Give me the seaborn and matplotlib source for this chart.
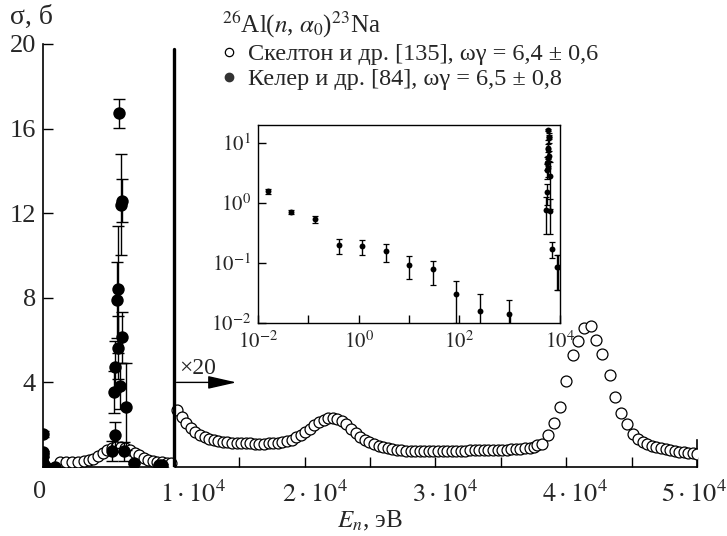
import numpy as np
import pandas as pd
import matplotlib
matplotlib.use("Agg")
import matplotlib.pyplot as plt
from matplotlib.lines import Line2D
from matplotlib.transforms import ScaledTranslation
import seaborn as sns

# ---------------- data ----------------
# Skelton et al. [135] -- below 10 keV (true scale)
skelton_E_low = [1300, 1750, 2200, 2650, 3100, 3500, 3850, 4200, 4550, 4900, 5250,
                 5600, 5950, 6300, 6650, 7000, 7350, 7700, 8050, 8400, 8750, 9100,
                 9450, 9800]
skelton_sigma_low = [0.25, 0.24, 0.24, 0.25, 0.27, 0.31, 0.40, 0.52, 0.66, 0.79, 0.89,
                     0.95, 0.96, 0.90, 0.80, 0.67, 0.55, 0.44, 0.35, 0.29, 0.25, 0.22,
                     0.20, 0.19]

# Skelton et al. [135] -- above 10 keV, shown multiplied by 20
skelton_E_high = [10250, 10600, 10950, 11300, 11650, 12000, 12350, 12700, 13050, 13400,
                  13750, 14100, 14450, 14800, 15150, 15500, 15850, 16200, 16550, 16900,
                  17250, 17600, 17950, 18300, 18650, 19000, 19350, 19700, 20050, 20400,
                  20750, 21100, 21450, 21800, 22150, 22500, 22850, 23200, 23550, 23900,
                  24250, 24600, 24950, 25300, 25650, 26000, 26350, 26700, 27050, 27400,
                  27750, 28100, 28450, 28800, 29150, 29500, 29850, 30200, 30550, 30900,
                  31250, 31600, 31950, 32300, 32650, 33000, 33350, 33700, 34050, 34400,
                  34750, 35100, 35450, 35800, 36150, 36500, 36850, 37200, 37500, 37800,
                  38130, 38640, 39100, 39490, 40000, 40510, 40900, 41360, 41880, 42300,
                  42770, 43330, 43760, 44180, 44620, 45100, 45500, 45850, 46200, 46550,
                  46900, 47250, 47600, 47950, 48300, 48650, 49000, 49350, 49700, 50000]
skelton_sigma_high_x20 = [2.70, 2.35, 2.08, 1.85, 1.66, 1.52, 1.41, 1.32, 1.26, 1.22,
                          1.19, 1.17, 1.15, 1.14, 1.13, 1.12, 1.12, 1.11, 1.11, 1.11,
                          1.12, 1.13, 1.15, 1.18, 1.23, 1.30, 1.40, 1.52, 1.66, 1.82,
                          1.98, 2.12, 2.23, 2.30, 2.32, 2.28, 2.18, 2.02, 1.82, 1.60,
                          1.42, 1.28, 1.17, 1.07, 0.99, 0.93, 0.88, 0.84, 0.81, 0.79,
                          0.78, 0.77, 0.77, 0.76, 0.76, 0.76, 0.76, 0.76, 0.77, 0.77,
                          0.77, 0.78, 0.78, 0.78, 0.79, 0.79, 0.79, 0.80, 0.80, 0.80,
                          0.81, 0.81, 0.82, 0.83, 0.84, 0.86, 0.88, 0.91, 0.96, 1.02,
                          1.09, 1.51, 2.07, 2.85, 4.08, 5.30, 5.97, 6.56, 6.67, 6.00,
                          5.34, 4.35, 3.32, 2.54, 2.03, 1.55, 1.32, 1.18, 1.08, 1.00,
                          0.94, 0.88, 0.84, 0.80, 0.76, 0.73, 0.70, 0.67, 0.64, 0.62]
scale_factor = 20

# Koehler et al. [84]
koehler_E = [0.0155, 0.046, 0.135, 0.40, 1.15, 3.5, 10, 29.5, 87, 263, 955,
             5264, 5440, 5470, 5517, 5693, 5724, 5770, 5824, 5900, 5954, 6015,
             6030, 6207, 6337, 6920, 8890, 9095]
koehler_sigma = [1.57, 0.72, 0.54, 0.20, 0.19, 0.16, 0.094, 0.078, 0.031, 0.016, 0.014,
                 0.77, 3.56, 1.51, 4.74, 7.9, 8.4, 5.64, 16.72, 3.84, 12.4, 12.6,
                 6.13, 0.74, 2.85, 0.17, 0.085, 0.085]
koehler_err_lo = [0.15, 0.06, 0.07, 0.06, 0.055, 0.055, 0.04, 0.035, 0.021, 0.008, 0.005,
                  0.47, 1.0, 0.6, 1.2, 1.8, 3.0, 1.5, 0.7, 1.1, 2.4, 1.0,
                  1.2, 0.44, 2.05, 0.05, 0.05, 0.05]
koehler_err_hi = [0.15, 0.06, 0.07, 0.05, 0.05, 0.05, 0.036, 0.032, 0.019, 0.014, 0.01,
                  0.47, 1.0, 0.6, 1.2, 1.8, 3.0, 1.5, 0.7, 1.1, 2.4, 1.0,
                  1.2, 0.44, 2.05, 0.05, 0.05, 0.05]

xtick_vals = [0, 10000, 20000, 30000, 40000, 50000]
xtick_labels = ["0", r"$1\cdot10^4$", r"$2\cdot10^4$", r"$3\cdot10^4$",
                r"$4\cdot10^4$", r"$5\cdot10^4$"]
ytick_vals = [4, 8, 12, 16, 20]

reaction = r"$^{26}$Al($n$, $\alpha_0$)$^{23}$Na"
label_skelton = "Скелтон и др. [135], ωγ = 6,4 ± 0,6"
label_koehler = "Келер и др. [84], ωγ = 6,5 ± 0,8"

# ---------------- style ----------------
sns.set_style("ticks")
plt.rcParams["font.family"] = ["Liberation Serif", "DejaVu Serif"]
plt.rcParams["mathtext.fontset"] = "stix"

fig = plt.figure(figsize=(7.27, 5.36), dpi=100)
ax = fig.add_axes([43 / 727, 69 / 536, 654 / 727, 423 / 536])

df_low = pd.DataFrame({"E": skelton_E_low, "sigma": skelton_sigma_low})
df_high = pd.DataFrame({"E": skelton_E_high,
                        "sigma": np.array(skelton_sigma_high_x20)})
df_k = pd.DataFrame({"E": koehler_E, "sigma": koehler_sigma})

for d in (df_low, df_high):
    sns.scatterplot(data=d, x="E", y="sigma", ax=ax, marker="o", s=62,
                    color="white", edgecolor="black", linewidth=0.9, zorder=3)

ax.errorbar(koehler_E, koehler_sigma, yerr=[koehler_err_lo, koehler_err_hi],
            fmt="none", ecolor="black", elinewidth=1.0, capsize=4, capthick=1.0, zorder=4)
sns.scatterplot(data=df_k, x="E", y="sigma", ax=ax, marker="o", s=80,
                color="black", edgecolor="black", linewidth=0, zorder=5)

ax.set_xlim(0, 50000)
ax.set_ylim(0, 20)
ax.set_xticks(xtick_vals)
ax.set_xticklabels(xtick_labels)
ax.set_xticks([15000, 25000, 35000, 45000], minor=True)
ax.set_yticks(ytick_vals)
ax.set_yticklabels([str(v) for v in ytick_vals])
ax.tick_params(axis="both", which="both", direction="in", length=7, width=1,
               labelsize=19, color="black")
ax.tick_params(axis="x", pad=10)
ax.tick_params(axis="y", pad=5)
shifts = [-3, 19, 10, 10, 9, -3]
for lbl, dx in zip(ax.get_xticklabels(), shifts):
    lbl.set_transform(lbl.get_transform() + ScaledTranslation(dx / 100, 0, fig.dpi_scale_trans))
ax.spines["top"].set_visible(False)
ax.spines["right"].set_bounds(0, 1.3)
for s in ("left", "bottom", "right"):
    ax.spines[s].set_color("black")
    ax.spines[s].set_linewidth(1.2)
ax.set_xlabel("")
ax.set_ylabel("")
fig.text(370 / 727, 1 - 521 / 536, r"$E_n$, эВ", fontsize=18, ha="center", va="center")

# break line and x20 arrow
ax.axvline(10000, ymin=0, ymax=0.988, color="black", lw=2.4, zorder=6)
ax.annotate("", xy=(15000, 4), xytext=(10000, 4),
            arrowprops=dict(arrowstyle="-|>,head_length=1.1,head_width=0.25",
                            color="black", lw=1.0, mutation_scale=16), zorder=6)
ax.text(10400, 4.15, "×20", fontsize=17, ha="left", va="bottom")

fig.text(10 / 727, 1 - 17 / 536, "σ, б", fontsize=20, ha="left", va="center")

# legend
handles = [Line2D([], [], ls="none", marker="o", ms=6, mfc="white", mec="black", mew=0.9),
           Line2D([], [], ls="none", marker="o", ms=6, mfc="#333333", mec="#333333")]
leg = fig.legend(handles, [label_skelton, label_koehler], title=reaction,
                 loc="upper left", bbox_to_anchor=(222 / 727, 1 - 10 / 536),
                 frameon=False, fontsize=17.5, title_fontsize=18, handlelength=0.6,
                 handletextpad=0.45, labelspacing=0.12, borderpad=0, borderaxespad=0,
                 alignment="left")

# inset
axi = fig.add_axes([258 / 727, (536 - 323) / 536, 302 / 727, 198 / 536])
axi.set_xscale("log")
axi.set_yscale("log")
axi.errorbar(koehler_E, koehler_sigma, yerr=[koehler_err_lo, koehler_err_hi],
             fmt="none", ecolor="black", elinewidth=1.0, capsize=2.5, capthick=0.9)
sns.scatterplot(data=df_k, x="E", y="sigma", ax=axi, marker="o", s=18,
                color="black", linewidth=0, zorder=5)
axi.set_xlim(1e-2, 1e4)
axi.set_ylim(1e-2, 20)
axi.set_xticks([1e-2, 1e-1, 1, 10, 1e2, 1e3, 1e4])
axi.set_xticklabels([r"$10^{-2}$", "", r"$10^{0}$", "", r"$10^{2}$", "", r"$10^{4}$"])
axi.set_yticks([1e-2, 1e-1, 1, 10])
axi.set_yticklabels([r"$10^{-2}$", r"$10^{-1}$", r"$10^{0}$", r"$10^{1}$"])
axi.minorticks_off()
axi.tick_params(axis="both", which="both", direction="in", length=6, width=1,
                labelsize=15, color="black")
axi.tick_params(axis="x", pad=6)
axi.tick_params(axis="y", pad=5)
for s in axi.spines.values():
    s.set_color("black")
    s.set_linewidth(1.0)
axi.set_xlabel("")
axi.set_ylabel("")

fig.savefig("out.png", dpi=100)
